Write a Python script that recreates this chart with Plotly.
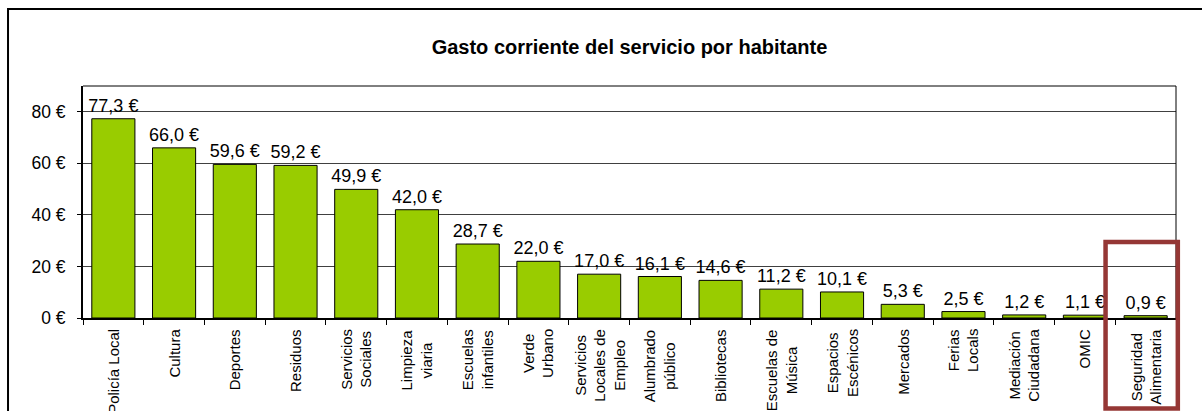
import plotly.graph_objects as go

# Gasto corriente por habitante, por servicio (euros)
categories = [
    "Policía Local", "Cultura", "Deportes", "Residuos", "Servicios<br>Sociales",
    "Limpieza<br>viaria", "Escuelas<br>infantiles", "Verde<br>Urbano",
    "Servicios<br>Locales de<br>Empleo", "Alumbrado<br>público", "Bibliotecas",
    "Escuelas de<br>Música", "Espacios<br>Escénicos", "Mercados", "Ferias<br>Locals",
    "Mediación<br>Ciudadana", "OMIC", "Seguridad<br>Alimentaria",
]
values = [77.3, 66.0, 59.6, 59.2, 49.9, 42.0, 28.7, 22.0, 17.0, 16.1, 14.6,
          11.2, 10.1, 5.3, 2.5, 1.2, 1.1, 0.9]
y_ticks = [0, 20, 40, 60, 80]
highlighted = "Seguridad<br>Alimentaria"

FONT = "Arial, 'Liberation Sans', sans-serif"
labels = [f"{v:.1f}".replace(".", ",") + " €" for v in values]
n = len(categories)
idx = list(range(n))

fig = go.Figure(go.Bar(
    x=idx,
    y=values,
    marker=dict(color="#99CC00", line=dict(color="#000000", width=1)),
    text=labels,
    textposition="outside",
    constraintext="none",
    cliponaxis=False,
    textfont=dict(family=FONT, size=18, color="#000000"),
    width=0.71,
    hoverinfo="skip",
))

# Category names, rotated and centred line by line under each bar
annotations = []
for i, name in enumerate(categories):
    annotations.append(dict(
        x=i, xref="x", y=0, yref="paper",
        text=name, textangle=-90, showarrow=False,
        xanchor="center", yanchor="top", yshift=-9, align="center",
        font=dict(family=FONT, size=15, color="#000000"),
    ))


def paper_x(pos):
    return (pos + 0.5) / n


hi = categories.index(highlighted)
shapes = [
    # outer frame of the chart
    dict(type="rect", xref="paper", yref="paper",
         x0=-0.0686, x1=1.04, y0=-0.6, y1=1.332,
         line=dict(color="#000000", width=2), fillcolor="rgba(0,0,0,0)",
         layer="below"),
    # plot area border (top and right)
    dict(type="line", xref="paper", yref="paper", x0=0, x1=1, y0=1, y1=1,
         line=dict(color="#000000", width=1)),
    dict(type="line", xref="paper", yref="paper", x0=1, x1=1, y0=0, y1=1,
         line=dict(color="#000000", width=1)),
    # highlight box around the last service
    dict(type="rect", xref="paper", yref="paper",
         x0=paper_x(hi - 0.66), x1=paper_x(hi + 0.53),
         y0=-0.39, y1=0.328,
         line=dict(color="#953735", width=4.5), fillcolor="rgba(0,0,0,0)"),
]

fig.update_layout(
    width=1202, height=411,
    margin=dict(l=83, r=26, t=86, b=93),
    paper_bgcolor="#FFFFFF", plot_bgcolor="#FFFFFF",
    showlegend=False,
    title=dict(text="<b>Gasto corriente del servicio por habitante</b>",
               x=0.5, xref="paper", xanchor="center",
               y=1 - 47 / 411, yref="container", yanchor="middle",
               font=dict(family=FONT, size=20, color="#000000")),
    xaxis=dict(range=[-0.5, n - 0.5], tickmode="array",
               tickvals=[i - 0.5 for i in range(n + 1)], ticktext=[""] * (n + 1),
               ticks="outside", ticklen=5, tickcolor="#000000", tickwidth=1,
               showline=True, linecolor="#000000", linewidth=2,
               showgrid=False, zeroline=False, fixedrange=True),
    yaxis=dict(range=[0, 90], tickmode="array", tickvals=y_ticks,
               ticktext=[f"{t} €" for t in y_ticks],
               ticks="outside", ticklen=4, tickcolor="#000000",
               ticklabelstandoff=8,
               showline=True, linecolor="#000000", linewidth=2,
               showgrid=True, gridcolor="#404040", gridwidth=1,
               zeroline=False, fixedrange=True,
               tickfont=dict(family=FONT, size=17.5, color="#000000")),
    annotations=annotations,
    shapes=shapes,
    bargap=0.29,
)

fig.write_html("out.html")
